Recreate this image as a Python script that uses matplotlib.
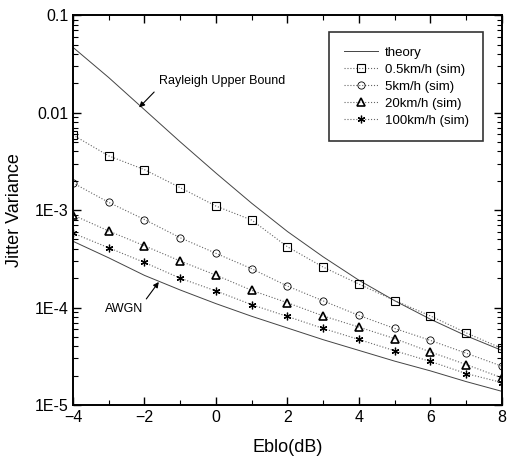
import numpy as np
import matplotlib
matplotlib.use('Agg')
import matplotlib.pyplot as plt
from matplotlib.ticker import FixedLocator, LogLocator, NullFormatter

plt.rcParams['font.family'] = ['Liberation Sans', 'DejaVu Sans']

# Eb/No (dB)
ebno = [-4, -3, -2, -1, 0, 1, 2, 3, 4, 5, 6, 7, 8]

# theory curves (log10 of variance)
rayleigh_log = [-1.33, -1.64, -1.97, -2.30, -2.62, -2.93, -3.22, -3.48, -3.72, -3.93, -4.12, -4.29, -4.44]
awgn_log = [-3.32, -3.49, -3.67, -3.82, -3.96, -4.09, -4.21, -4.33, -4.44, -4.55, -4.65, -4.76, -4.86]

# simulation results
sim_05 = [5.9e-3, 3.6e-3, 2.6e-3, 1.7e-3, 1.1e-3, 7.9e-4, 4.2e-4, 2.6e-4, 1.74e-4, 1.18e-4, 8.2e-5, 5.5e-5, 3.8e-5]
sim_5 = [1.9e-3, 1.2e-3, 8.0e-4, 5.2e-4, 3.6e-4, 2.5e-4, 1.66e-4, 1.17e-4, 8.3e-5, 6.1e-5, 4.6e-5, 3.4e-5, 2.5e-5]
sim_20 = [8.9e-4, 6.1e-4, 4.3e-4, 3.0e-4, 2.15e-4, 1.5e-4, 1.12e-4, 8.2e-5, 6.3e-5, 4.8e-5, 3.5e-5, 2.6e-5, 1.9e-5]
sim_100 = [5.8e-4, 4.1e-4, 2.9e-4, 2.0e-4, 1.48e-4, 1.07e-4, 8.1e-5, 6.1e-5, 4.7e-5, 3.6e-5, 2.8e-5, 2.1e-5, 1.7e-5]

labels = ['0.5km/h (sim)', '5km/h (sim)', '20km/h (sim)', '100km/h (sim)']
ytick_vals = [1e-5, 1e-4, 1e-3, 1e-2, 1e-1]
ytick_labels = ['1E-5', '1E-4', '1E-3', '0.01', '0.1']

fig = plt.figure(figsize=(5.07, 4.61), dpi=100)
ax = fig.add_axes([0.144, 0.1215, 0.846, 0.8455])

rayleigh = 10 ** np.array(rayleigh_log)
awgn = 10 ** np.array(awgn_log)
ax.plot(ebno, rayleigh, color='#444444', lw=0.7, label='theory')
ax.plot(ebno, awgn, color='#444444', lw=0.7)

sims = [sim_05, sim_5, sim_20, sim_100]
markers = ['s', 'o', '^', (6, 2, 0)]
msizes = [5.2, 5.2, 6, 5.5]
mews = [0.8, 0.6, 1.2, 0.9]
for vals, m, lab, ms, mew in zip(sims, markers, labels, msizes, mews):
    ax.plot(ebno, vals, linestyle=':', color='#666666', lw=0.8,
            marker=m, markersize=ms, markerfacecolor='none',
            markeredgecolor='black', markeredgewidth=mew, label=lab)

ax.set_yscale('log')
ax.set_xlim(-4, 8)
ax.set_ylim(1e-5, 0.1)

ax.set_xticks([-4, -2, 0, 2, 4, 6, 8])
ax.xaxis.set_minor_locator(FixedLocator([-3, -1, 1, 3, 5, 7]))
ax.set_yticks(ytick_vals)
ax.set_yticklabels(ytick_labels)
ax.yaxis.set_minor_locator(LogLocator(base=10, subs=np.arange(2, 10)))
ax.yaxis.set_minor_formatter(NullFormatter())

ax.tick_params(which='both', direction='in', top=True, right=True, labelsize=11.5)
ax.tick_params(which='major', length=6, width=1.0)
ax.tick_params(which='minor', length=3.5, width=0.8)
for sp in ax.spines.values():
    sp.set_linewidth(1.4)

ax.set_xlabel('Eblo(dB)', fontsize=13, labelpad=10)
ax.set_ylabel('Jitter Variance', fontsize=13, labelpad=8)

ax.annotate('Rayleigh Upper Bound', xy=(-2.15, 0.0113), xytext=(-1.6, 0.021),
            fontsize=9, ha='left', va='center',
            arrowprops=dict(arrowstyle='-|>', color='black', lw=0.8,
                            mutation_scale=8, shrinkA=2, shrinkB=0,
                            relpos=(0.0, 0.0)))
ax.annotate('AWGN', xy=(-1.6, 1.83e-4), xytext=(-3.1, 9.7e-5),
            fontsize=9, ha='left', va='center',
            arrowprops=dict(arrowstyle='-|>', color='black', lw=0.8,
                            mutation_scale=8, shrinkA=1, shrinkB=0,
                            relpos=(1.0, 1.0)))

leg = ax.legend(loc='upper right', bbox_to_anchor=(0.956, 0.956), borderaxespad=0,
                fontsize=9.5, frameon=True, fancybox=False, edgecolor='black',
                handlelength=2.6, borderpad=1.1, labelspacing=0.35, handletextpad=0.5)
leg.get_frame().set_linewidth(1.2)

fig.savefig('out.png', dpi=100)
